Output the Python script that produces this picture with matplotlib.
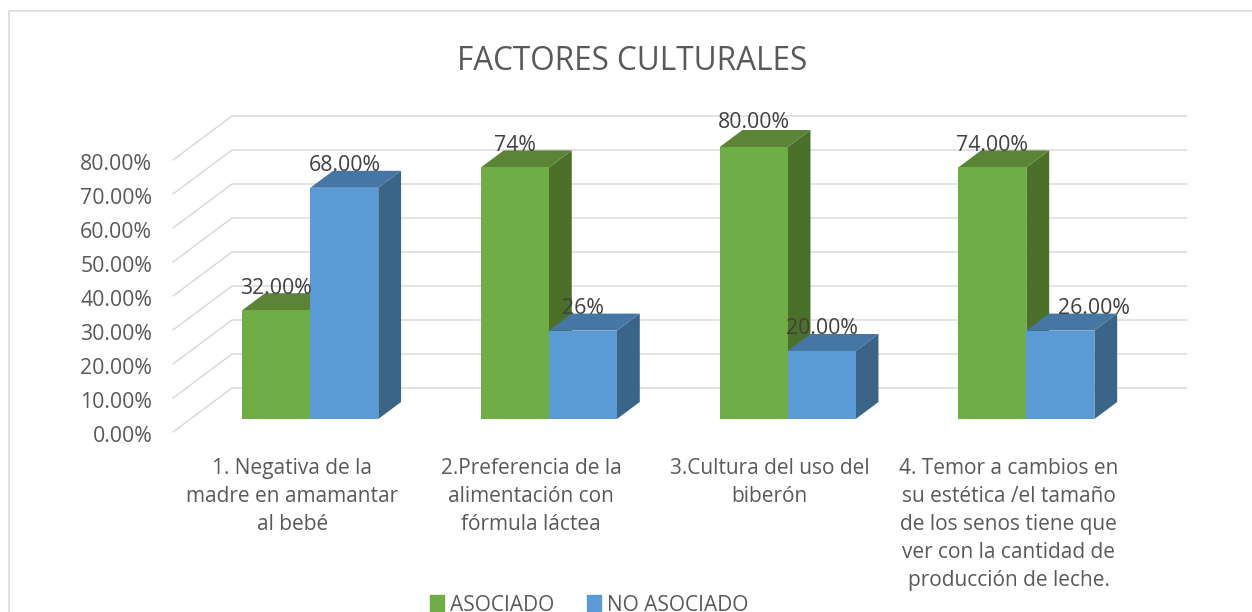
import matplotlib
matplotlib.use("Agg")
import matplotlib.pyplot as plt
from matplotlib.lines import Line2D
from matplotlib.patches import Patch
from matplotlib.transforms import ScaledTranslation

plt.rcParams['font.family'] = ['Open Sans', 'DejaVu Sans']

title = "FACTORES CULTURALES"
categories = [
    "1. Negativa de la\nmadre en amamantar\nal bebé",
    "2.Preferencia de la\nalimentación con\nfórmula láctea",
    "3.Cultura del uso del\nbiberón",
    "4. Temor a cambios en\nsu estética /el tamaño\nde los senos tiene que\nver con la cantidad de\nproducción de leche.",
]
series_names = ["ASOCIADO", "NO ASOCIADO"]
asociado = [32, 74, 80, 74]
no_asociado = [68, 26, 20, 26]
asociado_labels = ["32.00%", "74%", "80.00%", "74.00%"]
no_asociado_labels = ["68.00%", "26%", "20.00%", "26.00%"]
y_ticks = [0, 10, 20, 30, 40, 50, 60, 70, 80]

W, H = 1252, 612
fig = plt.figure(figsize=(W / 100, H / 100), dpi=100, facecolor="white")
ax_l, ax_w, ax_top, ax_h = 173, 954.8, 160, 272
ax = fig.add_axes([ax_l / W, 1 - (ax_top + ax_h) / H, ax_w / W, ax_h / H])
ax.set_xlim(0, 4)
ax.set_ylim(0, 80)
ax.patch.set_visible(False)
for s in ax.spines.values():
    s.set_visible(False)

ux, uy = 4 / ax_w, 80 / ax_h          # data units per pixel
depth_x, depth_y = 59 * ux, 44 * uy   # full depth of the 3D floor


def proj(x, v, d):
    return x + d * depth_x, v + d * depth_y


GRID = "#d9d9d9"
for t in y_ticks:
    xs, ys = zip(proj(0, t, 0), proj(0, t, 1), proj(4, t, 1))
    ax.plot(xs, ys, color=GRID, lw=1.05, zorder=1, clip_on=False, solid_capstyle="round")

d0, d1 = 13 / 44, 30 / 44
bw = 68 * ux
styles = [("#70AD47", "#5B8437", "#4B7029"), ("#5B9BD5", "#4676A3", "#3A6488")]
all_series = [asociado, no_asociado]
all_labels = [asociado_labels, no_asociado_labels]

z = 2
for c in range(len(categories)):
    center = c + 0.5 + 0.5 * ux
    for k, vals in enumerate(all_series):
        front, top, side = styles[k]
        v = vals[c]
        x0 = center + (k - 1) * bw
        x1 = x0 + bw
        pts = [proj(x1, 0, d0), proj(x1, 0, d1), proj(x1, v, d1), proj(x1, v, d0)]
        ax.fill(*zip(*pts), color=side, lw=0, zorder=z, clip_on=False)
        pts = [proj(x0, v, d0), proj(x0, v, d1), proj(x1, v, d1), proj(x1, v, d0)]
        ax.fill(*zip(*pts), color=top, lw=0, zorder=z, clip_on=False)
        px, pb = proj(x0, 0, d0)
        ax.bar(px, v, width=bw, bottom=pb, align="edge", color=front, lw=0, zorder=z + 0.5, clip_on=False)
        z += 1

# labels that the reference moved away from their default place: (series, category) -> pixels
label_shift = {(1, 3): (34, 0), (0, 2): (0, 3)}
for c in range(len(categories)):
    center = c + 0.5 + 0.5 * ux
    for k, labels in enumerate(all_labels):
        xc = center + (k - 0.5) * bw
        px, py = proj(xc, all_series[k][c], d0)
        sx, sy = label_shift.get((k, c), (0, 0))
        ax.annotate(labels[c], (px, py), xytext=(sx * 0.72, (22 + sy) * 0.72), textcoords="offset points",
                    ha="center", va="center", fontsize=15.3, color="#404040", zorder=50,
                    annotation_clip=False)

ax.set_yticks(y_ticks)
ax.set_yticklabels([f"{t:.2f}%" for t in y_ticks], fontsize=15.3, color="#595959")
ax.set_xticks([i + 0.5 for i in range(len(categories))])
ax.set_xticklabels(categories, fontsize=15, color="#595959", linespacing=1.44)
ax.tick_params(axis="both", length=0)
ax.tick_params(axis="y", pad=15)
ax.tick_params(axis="x", pad=18.5)
for lab in ax.get_yticklabels():
    lab.set_transform(lab.get_transform() + ScaledTranslation(0, -2 / 100, fig.dpi_scale_trans))

ax.set_title(title, x=(632 - ax_l) / ax_w, pad=65, fontsize=22.7, color="#595959")

handles = [Patch(color=styles[0][0], label=series_names[0]),
           Patch(color=styles[1][0], label=series_names[1])]
fig.legend(handles=handles, ncol=2, loc="center", bbox_to_anchor=(589 / W, 1 - 605.5 / H),
           frameon=False, fontsize=15, labelcolor="#595959", handlelength=0.68, handleheight=0.95,
           handletextpad=0.3, columnspacing=1.55, borderpad=0, borderaxespad=0)

# outer chart frame
fig.add_artist(Line2D([8.5 / W, 8.5 / W, 1], [0, 1 - 10.5 / H, 1 - 10.5 / H], color=GRID, lw=1.2))

fig.savefig("out.png", dpi=100)
